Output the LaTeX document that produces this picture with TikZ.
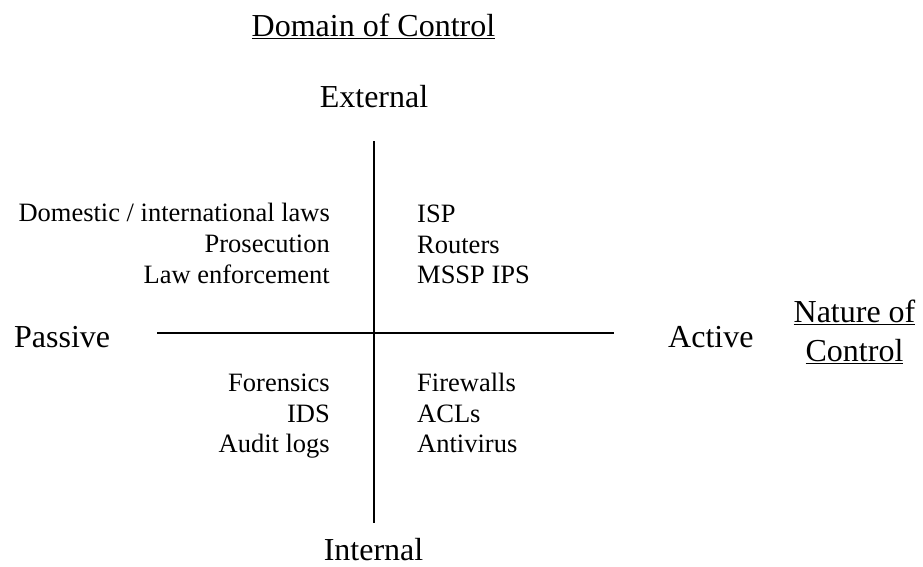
\documentclass[tikz,border=0pt]{standalone}
\usepackage{fontspec}
\setmainfont{Liberation Serif}
\usepackage{tikz}

\begin{document}
\begin{tikzpicture}[x=1pt,y=-1pt,line cap=butt,
  big/.style={inner sep=0pt,font=\fontsize{32}{38}\selectfont},
  small/.style={inner sep=0pt,font=\fontsize{26.5}{30}\selectfont}]
\useasboundingbox (0,0) rectangle (923,567);
% headings
\node[big,anchor=base] (domain) at (373.5,36.7) {\underline{Domain of Control}};
\node[big,anchor=base] (external) at (374,108) {External};
\node[big,anchor=base] (internal) at (373.5,560) {Internal};
\node[big,anchor=base west] (passive) at (14,347.5) {Passive};
\node[big,anchor=base west] (active) at (668,347) {Active};
\node[big,anchor=base] (nature) at (854.5,322) {\underline{Nature of}};
\node[big,anchor=base] (control) at (854.5,361) {\underline{Control}};
% axes
\coordinate (top) at (374,141);
\coordinate (bottom) at (374,523);
\coordinate (left) at (157,332.5);
\coordinate (right) at (614,332.5);
\draw[line width=1.6pt] (top) -- (bottom);
\draw[line width=2pt] (left) -- (right);
% quadrants
\node[small,anchor=base east] (laws) at (330,221) {Domestic / international laws};
\node[small,anchor=base east] (prosec) at (330,252) {Prosecution};
\node[small,anchor=base east] (enforce) at (330,283) {Law enforcement};
\node[small,anchor=base west] (isp) at (417,222) {ISP};
\node[small,anchor=base west] (routers) at (417,253) {Routers};
\node[small,anchor=base west] (mssp) at (417,283) {MSSP IPS};
\node[small,anchor=base east] (forensics) at (330,391) {Forensics};
\node[small,anchor=base east] (ids) at (330,422) {IDS};
\node[small,anchor=base east] (audit) at (330,452) {Audit logs};
\node[small,anchor=base west] (firewalls) at (417,391) {Firewalls};
\node[small,anchor=base west] (acls) at (417,422) {ACLs};
\node[small,anchor=base west] (antivirus) at (417,452) {Antivirus};
\end{tikzpicture}
\end{document}
